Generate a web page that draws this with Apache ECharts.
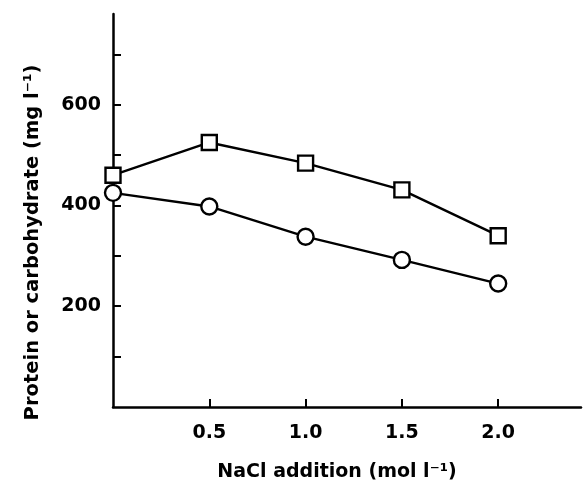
<!DOCTYPE html>
<html>
<head>
<meta charset="utf-8">
<script src="https://cdn.jsdelivr.net/npm/echarts@6/dist/echarts.min.js"></script>
<style>
  html, body { margin: 0; padding: 0; background: #fff; }
  #chart { width: 584px; height: 483px; }
</style>
</head>
<body>
<div id="chart"></div>
<script>
// NaCl addition (mol l-1)
var nacl = [0, 0.5, 1.0, 1.5, 2.0]
// squares and circles, mg l-1
var squares = [460, 525, 484, 431, 340]
var circles = [425, 398, 338, 292, 245]
var yTicks = [100, 200, 300, 400, 500, 600, 700]
var yLabels = [200, 400, 600]
var xLabels = [0.5, 1.0, 1.5, 2.0]

function pairs (xs, ys) {
  return xs.map(function (x, i) { return [x, ys[i]] })
}

var font = 'DejaVu Sans'
var chart = echarts.init(document.getElementById('chart'))
var option = {
  animation: false,
  grid: { left: 113, right: 3, top: 14, bottom: 76, outerBoundsMode: 'none' },
  xAxis: {
    type: 'value',
    min: 0,
    max: 2.43,
    interval: 0.5,
    splitLine: { show: false },
    axisLine: { lineStyle: { color: '#000', width: 2.5 } },
    axisTick: { inside: true, length: 8, customValues: xLabels, lineStyle: { color: '#000', width: 2 } },
    axisLabel: {
      color: '#000', fontFamily: font, fontWeight: 'bold', fontSize: 19, margin: 17,
      customValues: xLabels,
      formatter: function (v) { return v.toFixed(1) }
    },
    name: 'NaCl addition (mol l⁻¹)',
    nameLocation: 'middle',
    nameGap: 56,
    nameTextStyle: { color: '#000', fontFamily: font, fontWeight: 'bold', fontSize: 19, padding: [0, 20, 0, 0] }
  },
  yAxis: {
    type: 'value',
    min: 0,
    max: 780,
    interval: 100,
    splitLine: { show: false },
    axisLine: { lineStyle: { color: '#000', width: 2.5 } },
    axisTick: { inside: true, length: 8, customValues: yTicks, lineStyle: { color: '#000', width: 2 } },
    axisLabel: {
      color: '#000', fontFamily: font, fontWeight: 'bold', fontSize: 19, margin: 12,
      customValues: yLabels
    },
    name: 'Protein or carbohydrate (mg l⁻¹)',
    nameLocation: 'middle',
    nameGap: 70,
    nameTextStyle: { color: '#000', fontFamily: font, fontWeight: 'bold', fontSize: 19.5, padding: [0, 0, 0, -64] }
  },
  series: [
    {
      name: 'squares',
      type: 'line',
      data: pairs(nacl, squares),
      symbol: 'rect',
      symbolSize: 15,
      lineStyle: { color: '#000', width: 2.4 },
      itemStyle: { color: '#fff', borderColor: '#000', borderWidth: 2.4 }
    },
    {
      name: 'circles',
      type: 'line',
      data: pairs(nacl, circles),
      symbol: 'circle',
      symbolSize: 16,
      lineStyle: { color: '#000', width: 2.4 },
      itemStyle: { color: '#fff', borderColor: '#000', borderWidth: 2.4 }
    }
  ]
}
chart.setOption(option)
</script>
</body>
</html>
